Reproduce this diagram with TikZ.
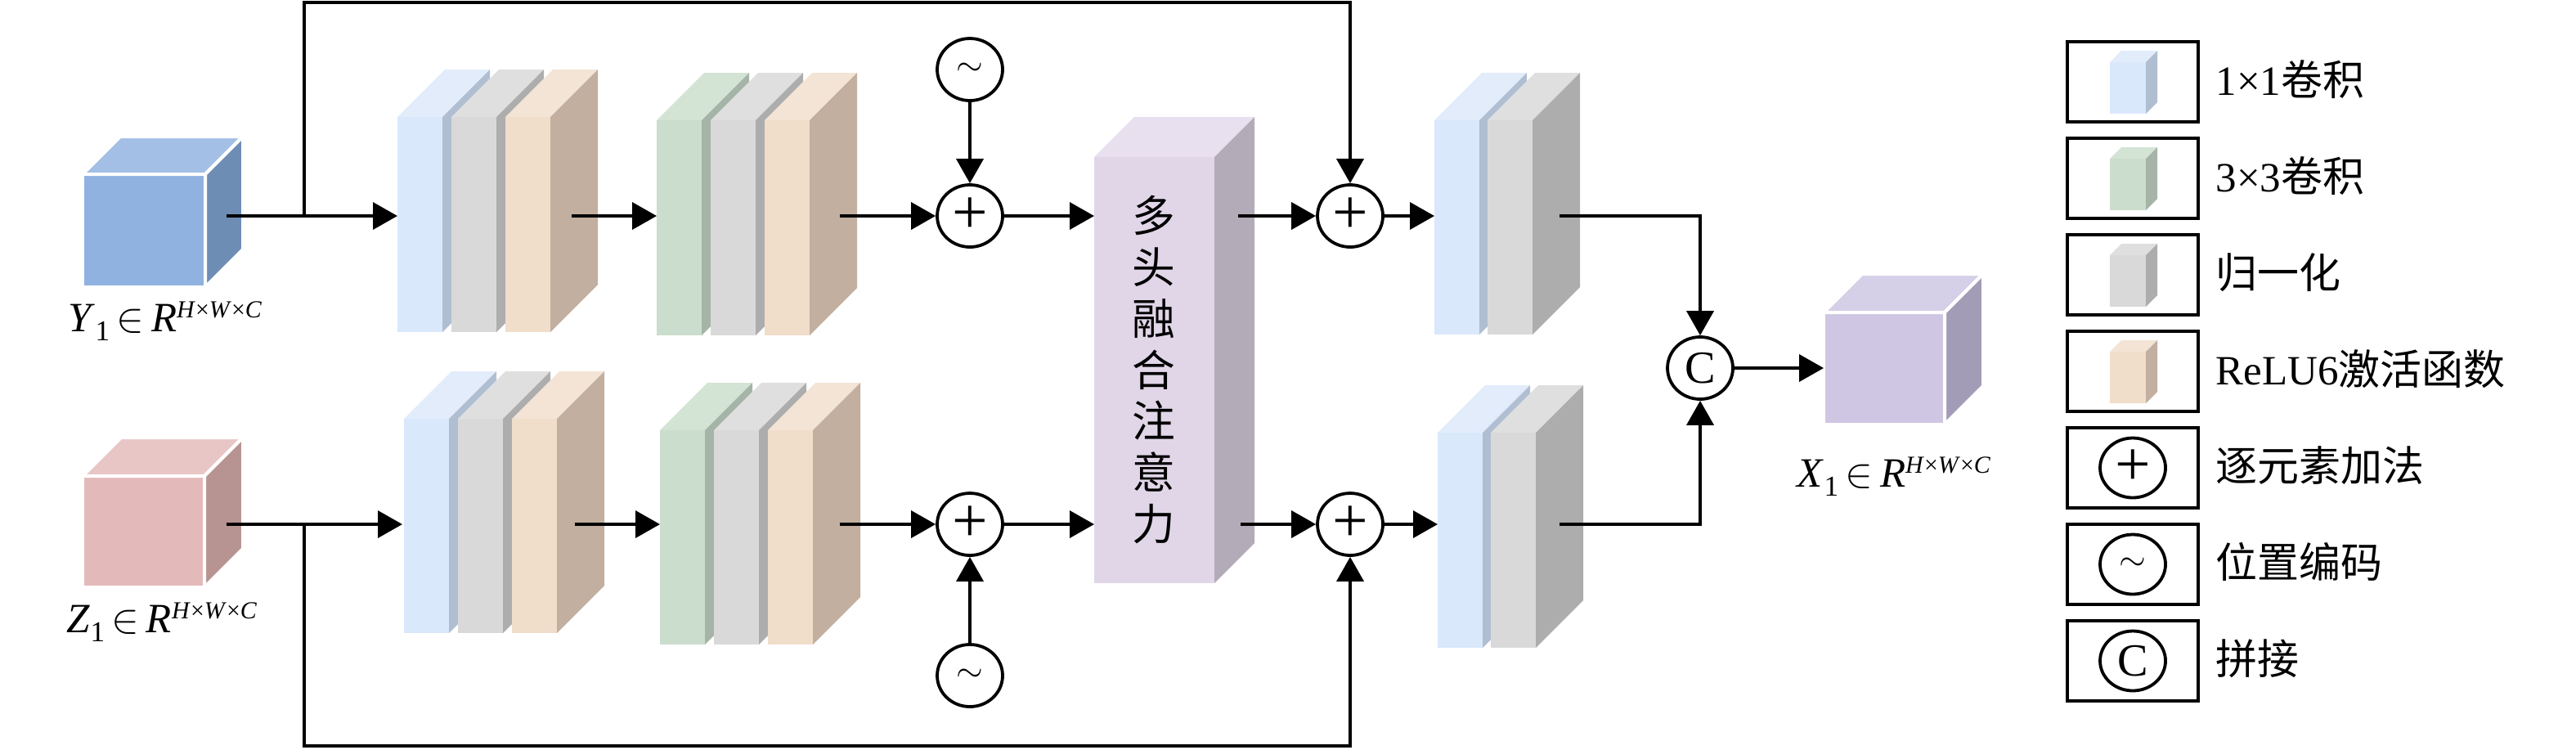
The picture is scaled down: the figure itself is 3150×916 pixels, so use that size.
\documentclass[tikz,border=0pt]{standalone}
\usepackage{fontspec}
\setmainfont{Liberation Serif}
\newfontfamily\cjk{Noto Sans CJK SC}
\usetikzlibrary{arrows.meta,shapes.geometric}
% cube colours
\definecolor{yF}{HTML}{8FB2E0}\definecolor{yT}{HTML}{A3BFE6}\definecolor{yS}{HTML}{6E8DB5}
\definecolor{zF}{HTML}{E4B9B9}\definecolor{zT}{HTML}{E8C6C6}\definecolor{zS}{HTML}{B79492}
\definecolor{xF}{HTML}{CEC6E2}\definecolor{xT}{HTML}{D6CFE8}\definecolor{xS}{HTML}{A39CB7}
\definecolor{bF}{HTML}{DAE8FC}\definecolor{bT}{HTML}{E2ECFB}\definecolor{bS}{HTML}{B0BED2}
\definecolor{gF}{HTML}{D9D9D9}\definecolor{gT}{HTML}{DFDFDF}\definecolor{gS}{HTML}{ADADAD}
\definecolor{pF}{HTML}{F0DDCA}\definecolor{pT}{HTML}{F3E4D6}\definecolor{pS}{HTML}{C2AF9F}
\definecolor{cF}{HTML}{CBDDCC}\definecolor{cT}{HTML}{D3E3D4}\definecolor{cS}{HTML}{A5B4A6}
\definecolor{mF}{HTML}{E0D6E8}\definecolor{mT}{HTML}{E8E0EE}\definecolor{mS}{HTML}{B4ABB9}
% cuboid: x, ytop, w, h, depth, front, top, side, extra style
\newcommand{\cuboid}[9]{%
  \fill[#6,#9] (#1,#2) rectangle ++(#3,#4);
  \fill[#7,#9] (#1,#2) -- ++(#5,-#5) -- ++(#3,0) -- ++(-#5,#5) -- cycle;
  \fill[#8,#9] ({#1+#3},#2) -- ++(#5,-#5) -- ++(0,#4) -- ++(-#5,#5) -- cycle;}
\newcommand{\slabb}[3]{\cuboid{#1}{#2}{55}{#3}{58}{bF}{bT}{bS}{}}
\newcommand{\slabg}[3]{\cuboid{#1}{#2}{55}{#3}{58}{gF}{gT}{gS}{}}
\newcommand{\slabp}[3]{\cuboid{#1}{#2}{55}{#3}{58}{pF}{pT}{pS}{}}
\newcommand{\slabc}[3]{\cuboid{#1}{#2}{55}{#3}{58}{cF}{cT}{cS}{}}
\newcommand{\dimlabel}[1]{\textit{#1}\raisebox{-3.4pt}{\fontsize{10}{10}\selectfont 1}\,$\in$\,\textit{R}\raisebox{4.8pt}{\fontsize{8.5}{8.5}\selectfont\textit{H}×\textit{W}×\textit{C}}}
\begin{document}
\begin{tikzpicture}[x=0.1mm,y=-0.1mm,
  ln/.style={line width=0.38mm},
  arr/.style={line width=0.38mm,-{Triangle[length=3mm,width=3.3mm]}},
  op/.style={ellipse,draw,line width=0.38mm,minimum width=8mm,minimum height=7.6mm,inner sep=0pt,fill=white},
  plusop/.style={op,font=\fontsize{22}{22}\selectfont},
  tildeop/.style={op,font=\fontsize{13}{13}\selectfont},
  catop/.style={op,font=\fontsize{16}{16}\selectfont},
  legbox/.style={draw,line width=0.38mm,minimum width=16mm,minimum height=9.8mm,inner sep=0pt},
  legtext/.style={anchor=west,font=\fontsize{14.5}{14.5}\selectfont,inner sep=0pt},
  lab/.style={anchor=base,font=\fontsize{14.5}{14.5}\selectfont,inner sep=0pt},
  edge/.style={draw=white,line width=0.4mm,line join=round}]
\useasboundingbox (0,0) rectangle (3150,916);

% ---- input cubes
\cuboid{101}{213}{150}{138}{46}{yF}{yT}{yS}{edge}
\cuboid{101}{582}{149}{136}{47}{zF}{zT}{zS}{edge}
\node[lab] (ylab) at (202,405) {\dimlabel{Y}};
\node[lab] (zlab) at (198,773) {\dimlabel{Z}};

% ---- block 1 (1x1 conv, norm, relu6)
\slabb{486}{143}{263}\slabg{552}{143}{263}\slabp{618}{143}{263}
\slabb{494}{512}{262}\slabg{560}{512}{262}\slabp{626}{512}{262}
% ---- block 2 (3x3 conv, norm, relu6)
\slabc{803}{147}{263}\slabg{869}{147}{263}\slabp{935}{147}{263}
\slabc{807}{526}{262}\slabg{873}{526}{262}\slabp{939}{526}{262}
% ---- multi-head attention
\cuboid{1338}{192}{147}{521}{49}{mF}{mT}{mS}{}
\node[font=\cjk\fontsize{15}{17.9}\selectfont,align=center,inner sep=0pt] (mhatxt) at (1411,452) {多\\头\\融\\合\\注\\意\\力};
% ---- block 3 (1x1 conv, norm)
\slabb{1754}{147}{262}\slabg{1819}{147}{262}
\slabb{1758}{529}{263}\slabg{1823}{529}{263}
% ---- output cube
\cuboid{2230}{382}{148}{137}{47}{xF}{xT}{xS}{edge}
\node[lab] (xlab) at (2316,595) {\dimlabel{X}};

% ---- operator nodes
\node[tildeop] (pe1) at (1186,85) {$\sim$};
\node[plusop] (add1) at (1186,264) {+};
\node[plusop] (add3) at (1186,641) {+};
\node[tildeop] (pe2) at (1186,826) {$\sim$};
\node[plusop] (add2) at (1651,264) {+};
\node[plusop] (add4) at (1651,641) {+};
\node[catop] (cat) at (2079,450) {C};

% ---- connection points
\coordinate (yout) at (277,264);  \coordinate (zout) at (277,641);
\coordinate (sk1) at (372,264);   \coordinate (sk2) at (372,3);
\coordinate (sk4) at (372,641);   \coordinate (sk5) at (372,912);
\coordinate (b1tin) at (486,264); \coordinate (b1tout) at (699,264);
\coordinate (b1bin) at (492,641); \coordinate (b1bout) at (703,641);
\coordinate (b2tin) at (803,264); \coordinate (b2tout) at (1027,264);
\coordinate (b2bin) at (807,641); \coordinate (b2bout) at (1027,641);
\coordinate (mtin) at (1338,264); \coordinate (mtout) at (1514,264);
\coordinate (mbin) at (1338,641); \coordinate (mbout) at (1517,641);
\coordinate (b3tin) at (1754,264); \coordinate (b3tout) at (1907,264);
\coordinate (b3bin) at (1758,641); \coordinate (b3bout) at (1907,641);
\coordinate (xin) at (2230,450);

% ---- connectors
\draw[arr] (yout) -- (b1tin);
\draw[arr] (zout) -- (b1bin);
\draw[arr] (sk1) -- (sk2) -| (add2.north);
\draw[arr] (sk4) -- (sk5) -| (add4.south);
\draw[arr] (b1tout) -- (b2tin);
\draw[arr] (b1bout) -- (b2bin);
\draw[arr] (b2tout) -- (add1.west);
\draw[arr] (b2bout) -- (add3.west);
\draw[arr] (pe1.south) -- (add1.north);
\draw[arr] (pe2.north) -- (add3.south);
\draw[arr] (add1.east) -- (mtin);
\draw[arr] (add3.east) -- (mbin);
\draw[arr] (mtout) -- (add2.west);
\draw[arr] (mbout) -- (add4.west);
\draw[arr] (add2.east) -- (b3tin);
\draw[arr] (add4.east) -- (b3bin);
\draw[arr] (b3tout) -| (cat.north);
\draw[arr] (b3bout) -| (cat.south);
\draw[arr] (cat.east) -- (xin);

% ---- legend
\node[legbox] (lb1) at (2608,100) {};
\node[legbox] (lb2) at (2608,218) {};
\node[legbox] (lb3) at (2608,336) {};
\node[legbox] (lb4) at (2608,454) {};
\node[legbox] (lb5) at (2608,572) {};
\node[legbox] (lb6) at (2608,690) {};
\node[legbox] (lb7) at (2608,808) {};
\cuboid{2580}{76}{44}{63}{14}{bF}{bT}{bS}{}
\cuboid{2580}{194}{44}{63}{14}{cF}{cT}{cS}{}
\cuboid{2580}{312}{44}{63}{14}{gF}{gT}{gS}{}
\cuboid{2580}{430}{44}{63}{14}{pF}{pT}{pS}{}
\node[plusop,minimum height=7.3mm] (ladd) at (2608,572) {+};
\node[tildeop,minimum height=7.3mm] (lpe) at (2608,690) {$\sim$};
\node[catop,minimum height=7.3mm] (lcat) at (2608,808) {C};
\node[legtext] (lt1) at (2709,97) {1×1{\cjk 卷积}};
\node[legtext] (lt2) at (2709,215) {3×3{\cjk 卷积}};
\node[legtext] (lt3) at (2709,333) {{\cjk 归一化}};
\node[legtext] (lt4) at (2709,451) {ReLU6{\cjk 激活函数}};
\node[legtext] (lt5) at (2709,569) {{\cjk 逐元素加法}};
\node[legtext] (lt6) at (2709,687) {{\cjk 位置编码}};
\node[legtext] (lt7) at (2709,805) {{\cjk 拼接}};
\end{tikzpicture}
\end{document}
